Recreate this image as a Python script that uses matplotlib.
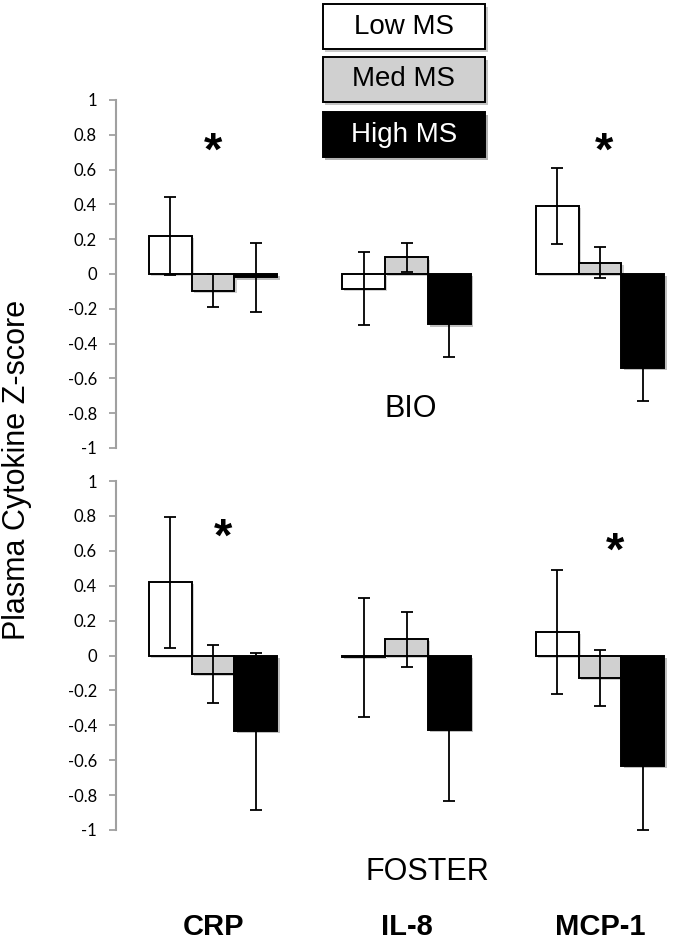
import matplotlib
matplotlib.use("Agg")
import matplotlib.pyplot as plt
import matplotlib.patheffects as pe
from matplotlib.patches import Rectangle
import numpy as np

# data
cytokines = ["CRP", "IL-8", "MCP-1"]
groups = ["Low MS", "Med MS", "High MS"]
colors = ["white", "#d0d0d0", "black"]
text_colors = ["black", "black", "white"]

bio_means = [
    [0.22, -0.085, 0.39],     # Low MS
    [-0.095, 0.095, 0.065],   # Med MS
    [-0.02, -0.29, -0.54],    # High MS
]
bio_errs = [
    [0.225, 0.21, 0.22],
    [0.095, 0.083, 0.09],
    [0.20, 0.186, 0.19],
]
foster_means = [
    [0.42, -0.01, 0.135],
    [-0.105, 0.093, -0.128],
    [-0.435, -0.425, -0.635],
]
foster_errs = [
    [0.375, 0.34, 0.357],
    [0.168, 0.158, 0.16],
    [0.45, 0.41, 0.367],
]
# significance stars (category position, height of star centre)
bio_stars = [(0.0, 0.75), (2.02, 0.75)]
foster_stars = [(0.05, 0.72), (2.08, 0.64)]

yticks = [1, 0.8, 0.6, 0.4, 0.2, 0, -0.2, -0.4, -0.6, -0.8, -1]

W, H = 685, 941
fig = plt.figure(figsize=(W / 100, H / 100), dpi=100)

left = 116.25 / W
width = 1 - left
ax_top = fig.add_axes([left, 1 - 448 / H, width, 348 / H])
ax_bot = fig.add_axes([left, 1 - 830 / H, width, 349 / H])

bar_w = 0.222
x = np.arange(len(cytokines))
shadow = [pe.SimplePatchShadow(offset=(1.5, -1.5), alpha=0.25), pe.Normal()]
star_size = 34


def draw_panel(ax, means, errs, stars):
    for i in range(len(groups)):
        xs = x + (i - 1) * bar_w
        bars = ax.bar(xs, means[i], bar_w, color=colors[i], edgecolor="black",
                      linewidth=1.4, zorder=2)
        for b in bars:
            b.set_path_effects(shadow)
        ax.errorbar(xs, means[i], yerr=errs[i], fmt="none", ecolor="black",
                    elinewidth=1.3, capsize=4, capthick=1.3, zorder=3)
    for sx, sy in stars:
        # asterisk glyph sits high in the em box, shift baseline down
        ax.annotate("*", (sx, sy), xytext=(0, -0.45 * star_size),
                    textcoords="offset points", ha="center", va="baseline",
                    fontsize=star_size, fontweight="bold",
                    family="Liberation Sans")
    ax.set_xlim(-0.5, (W - 116.25) / 193.5 - 0.5)
    ax.set_ylim(-1, 1)
    ax.set_yticks(yticks)
    ax.set_yticklabels([f"{t:g}" for t in yticks], family="Lato", fontsize=12)
    for s in ["top", "right", "bottom"]:
        ax.spines[s].set_visible(False)
    ax.spines["left"].set_color("#a0a0a0")
    ax.spines["left"].set_linewidth(1.5)
    ax.tick_params(axis="y", colors="#a0a0a0", length=5, width=1.3, pad=9,
                   labelcolor="black")
    ax.patch.set_alpha(0)


draw_panel(ax_top, bio_means, bio_errs, bio_stars)
draw_panel(ax_bot, foster_means, foster_errs, foster_stars)

ax_top.set_xticks([])
ax_bot.set_xticks(x)
ax_bot.set_xticklabels(cytokines, fontsize=21, fontweight="bold",
                       family="Liberation Sans")
ax_bot.tick_params(axis="x", length=0, pad=60)

ax_top.text(1.02, -0.775, "BIO", ha="center", va="center", fontsize=22,
            family="Liberation Sans")
fig.text(427 / W, 1 - 872 / H, "FOSTER", ha="center", va="center",
         fontsize=22, family="Liberation Sans")
fig.text(17 / W, 1 - 470 / H, "Plasma Cytokine Z-score", rotation=90,
         ha="center", va="center", fontsize=22, family="Liberation Sans")

# legend boxes
box_x0, box_x1 = 322.5, 485
box_tops = [4, 57, 112]
box_h = 45
for i, name in enumerate(groups):
    y0 = 1 - (box_tops[i] + box_h) / H
    rect = Rectangle((box_x0 / W, y0), (box_x1 - box_x0) / W, box_h / H,
                     transform=fig.transFigure, facecolor=colors[i],
                     edgecolor="black", linewidth=1.4)
    rect.set_path_effects([pe.SimplePatchShadow(offset=(2, -2), alpha=0.3),
                           pe.Normal()])
    fig.patches.append(rect)
    fig.text((box_x0 + box_x1) / 2 / W, y0 + box_h / 2 / H, name,
             ha="center", va="center", fontsize=20, color=text_colors[i],
             family="Liberation Sans")

fig.savefig("out.png", dpi=100)
